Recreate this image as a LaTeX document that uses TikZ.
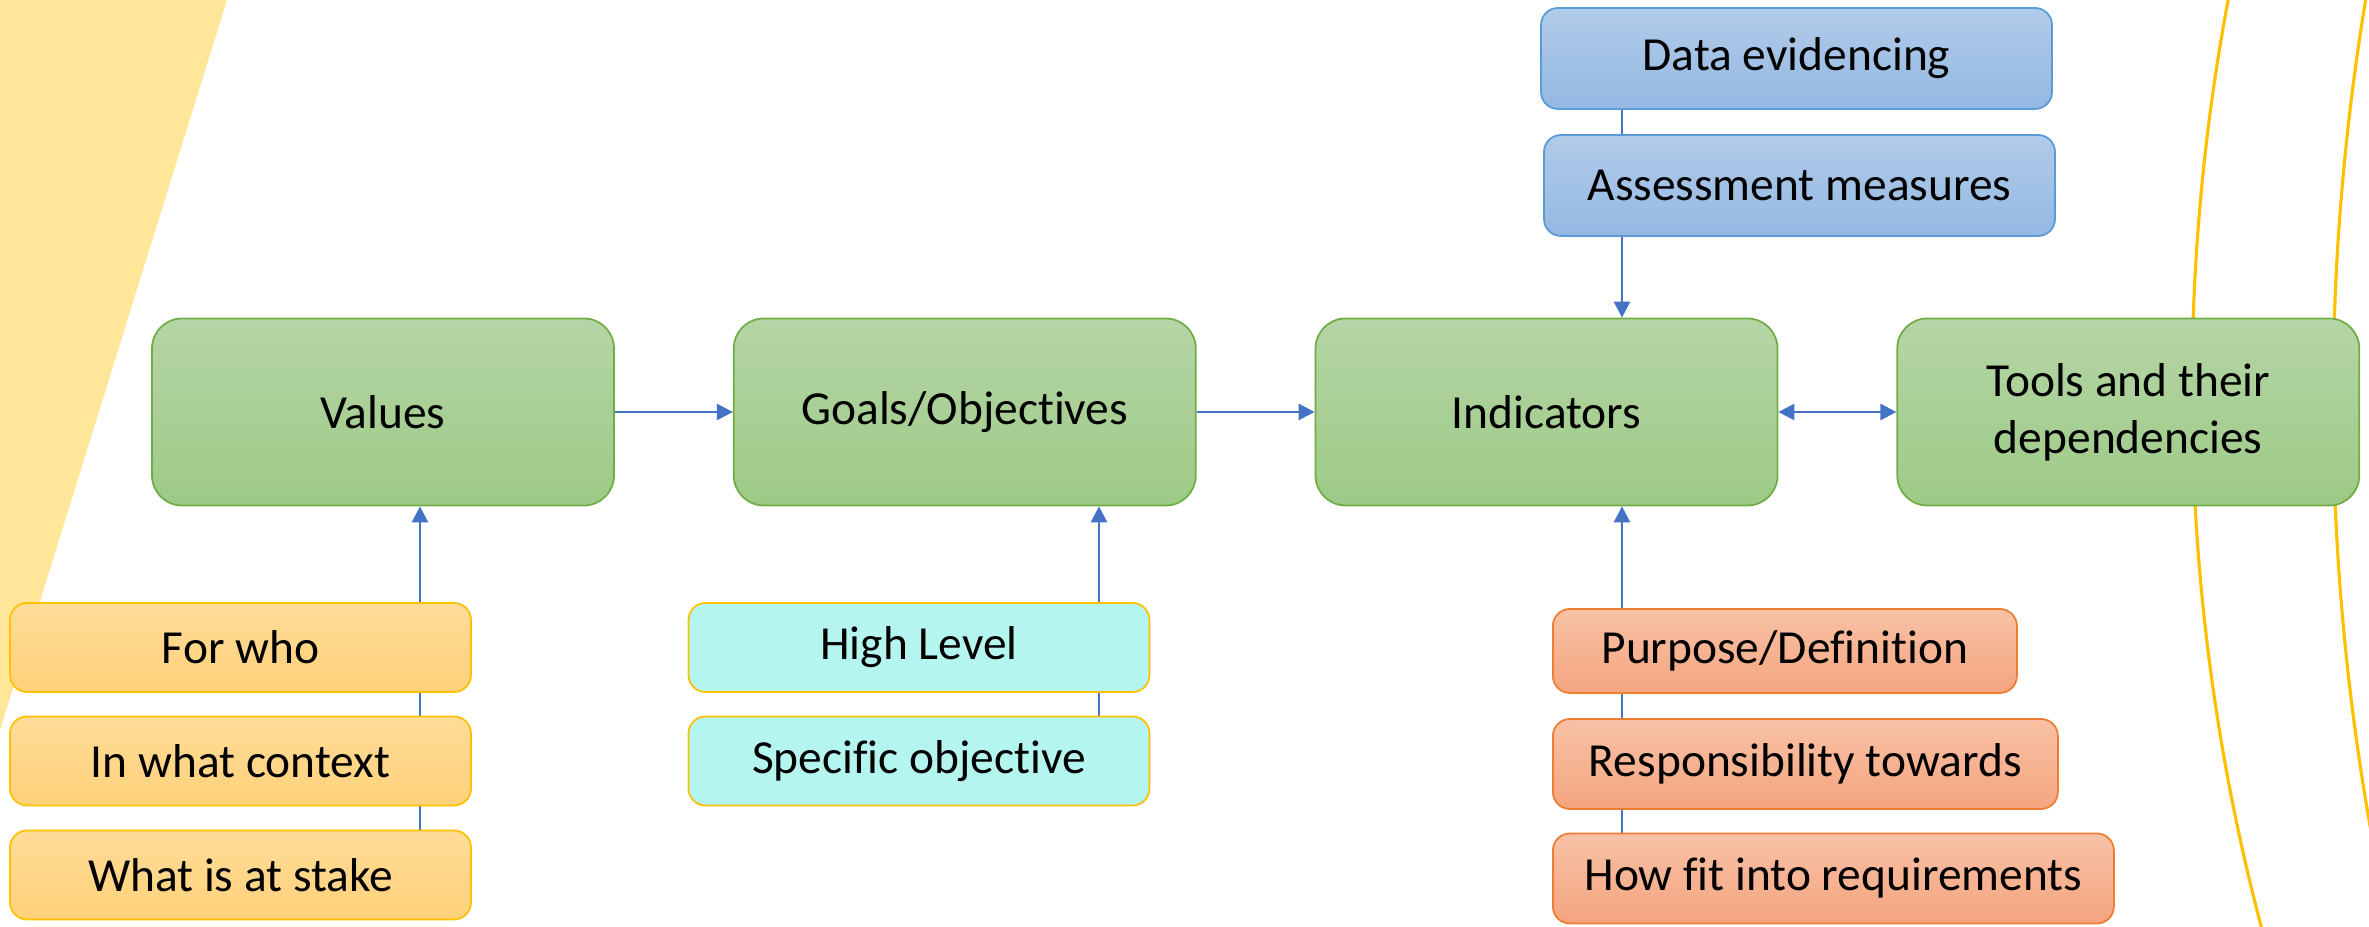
\documentclass[tikz,border=0pt]{standalone}
\usepackage{fontspec}
\setmainfont{Carlito}[Ligatures=NoCommon]
\usepackage{tikz}
\usetikzlibrary{arrows.meta,positioning,backgrounds}
\definecolor{cgreen}{HTML}{70AD47}
\definecolor{cgreentop}{HTML}{B5D5A6}
\definecolor{cgreenbot}{HTML}{9DCA86}
\definecolor{cblue}{HTML}{5B9BD5}
\definecolor{cbluetop}{HTML}{B1CBE9}
\definecolor{cbluebot}{HTML}{94B8E3}
\definecolor{corange}{HTML}{ED7D31}
\definecolor{corangetop}{HTML}{F8C1A6}
\definecolor{corangebot}{HTML}{F4A57F}
\definecolor{cgold}{HTML}{FFC000}
\definecolor{cgoldtop}{HTML}{FFDC98}
\definecolor{cgoldbot}{HTML}{FFD17A}
\definecolor{ccyan}{HTML}{B5F5F0}
\definecolor{cbg}{HTML}{FFE699}
\definecolor{carrow}{HTML}{4472C4}
\tikzset{
  >={Triangle[length=1.6mm,width=1.6mm]},
  box/.style={draw, rounded corners=1.7mm, inner sep=2pt, align=center, line width=0.5pt,
    font=\fontsize{13.5}{16.2}\selectfont, text=black},
  mainn/.style={box, rounded corners=3mm, minimum width=4.62cm, minimum height=1.87cm,
    draw=cgreen, top color=cgreentop, bottom color=cgreenbot},
  bluen/.style={box, minimum height=1.01cm, draw=cblue, top color=cbluetop, bottom color=cbluebot},
  orangen/.style={box, minimum height=0.9cm, draw=corange, top color=corangetop, bottom color=corangebot},
  goldn/.style={box, minimum width=4.61cm, minimum height=0.89cm, draw=cgold, top color=cgoldtop, bottom color=cgoldbot},
  cyann/.style={box, minimum width=4.61cm, minimum height=0.89cm, draw=cgold, fill=ccyan},
  pre/.style={->, line width=0.75pt, draw=carrow},
  ring/.style={draw=cgold, line width=0.9pt},
}
\begin{document}
\begin{tikzpicture}
\useasboundingbox (0,0) rectangle (23.69,9.27);
% main chain
\node[mainn] (val) at (3.83,5.15) {Values};
\node[mainn, right=1.18cm of val] (goal) {Goals/Objectives};
\node[mainn, right=1.18cm of goal] (ind) {Indicators};
\node[mainn, right=1.18cm of ind] (tool) {Tools and their\\dependencies};
% what feeds each step
\node[goldn] (who) at (2.405,2.795) {For who};
\node[goldn] (ctx) at (2.405,1.66) {In what context};
\node[goldn] (stake) at (2.405,0.52) {What is at stake};
\node[cyann] (high) at (9.19,2.795) {High Level};
\node[cyann] (spec) at (9.19,1.66) {Specific objective};
\node[bluen, minimum width=5.11cm] (data) at (17.965,8.685) {Data evidencing};
\node[bluen, minimum width=5.11cm] (assess) at (17.995,7.415) {Assessment measures};
\node[orangen, minimum width=4.64cm, minimum height=0.84cm, anchor=west] (purp) at (15.52,2.76) {Purpose/Definition};
\node[orangen, minimum width=5.05cm, anchor=west] (resp) at (15.52,1.63) {Responsibility towards};
\node[orangen, minimum width=5.61cm, anchor=west] (fit) at (15.52,0.485) {How fit into requirements};
\coordinate (vtap) at (4.20,0);
\coordinate (gtap) at (10.99,0);
\coordinate (itap) at (16.22,0);
\begin{scope}[on background layer]
  \fill[cbg] (0,9.27) -- (2.27,9.27) -- (0,1.97) -- cycle;
  \begin{scope}
    \clip (0,0) rectangle (23.69,9.27);
    \draw[ring] (42.92,5.37) circle[radius=21];
    \draw[ring] (47.74,5.27) circle[radius=24.41];
  \end{scope}
  % stacks run behind their boxes
  \draw[pre] (stake.center -| vtap) -- (val.south -| vtap);
  \draw[pre] (spec.center -| gtap) -- (goal.south -| gtap);
  \draw[pre] (fit.center -| itap) -- (ind.south -| itap);
  \draw[pre] (data.center -| itap) -- (ind.north -| itap);
\end{scope}
\draw[pre] (val) -- (goal);
\draw[pre] (goal) -- (ind);
\draw[pre, <->] (ind) -- (tool);
\end{tikzpicture}
\end{document}
